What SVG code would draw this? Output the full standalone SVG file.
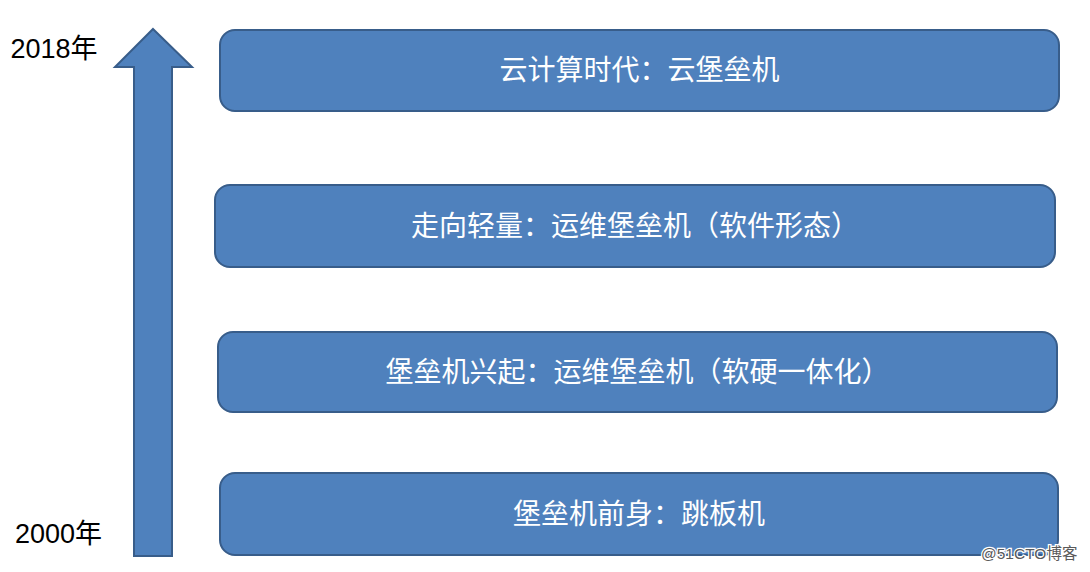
<svg xmlns="http://www.w3.org/2000/svg" width="1090" height="572" viewBox="0 0 1090 572">
<style>
.box{fill:#4f81bd;stroke:#385d8a;stroke-width:2}
.t{font-family:"Liberation Sans","Noto Sans CJK SC",sans-serif;font-size:28px;fill:#ffffff;text-anchor:middle;dominant-baseline:central}
.yr{font-family:"Liberation Sans","Noto Sans CJK SC",sans-serif;font-size:27px;fill:#000000}
.wm{font-family:"Liberation Sans","Noto Sans CJK SC",sans-serif;font-size:15.5px;fill:#5a5a5a;stroke:#ffffff;stroke-width:2.5;paint-order:stroke}
</style>
<rect width="1090" height="572" fill="#ffffff"/>
<g id="timeline-arrow">
<polygon class="box" points="153,29 192,67 172,67 172,556 134,556 134,67 115,67"/>
</g>
<g id="label-2018"><text class="yr" x="10.5" y="57.5">2018年</text></g>
<g id="label-2000"><text class="yr" x="15" y="542.5">2000年</text></g>
<g id="node-cloud">
<rect class="box" x="220" y="30" width="839" height="81" rx="15"/>
<text class="t" x="639.5" y="70.5">云计算时代：云堡垒机</text>
</g>
<g id="node-software">
<rect class="box" x="215" y="185" width="840" height="82" rx="15"/>
<text class="t" x="635" y="226">走向轻量：运维堡垒机（软件形态）</text>
</g>
<g id="node-hardware">
<rect class="box" x="218" y="332" width="839" height="80" rx="15"/>
<text class="t" x="637.5" y="372">堡垒机兴起：运维堡垒机（软硬一体化）</text>
</g>
<g id="node-jump">
<rect class="box" x="220" y="473" width="838" height="82" rx="15"/>
<text class="t" x="639" y="514">堡垒机前身：跳板机</text>
</g>
<g id="connectors"></g>
<text class="wm" x="981" y="559">@51CTO博客</text>
</svg>
